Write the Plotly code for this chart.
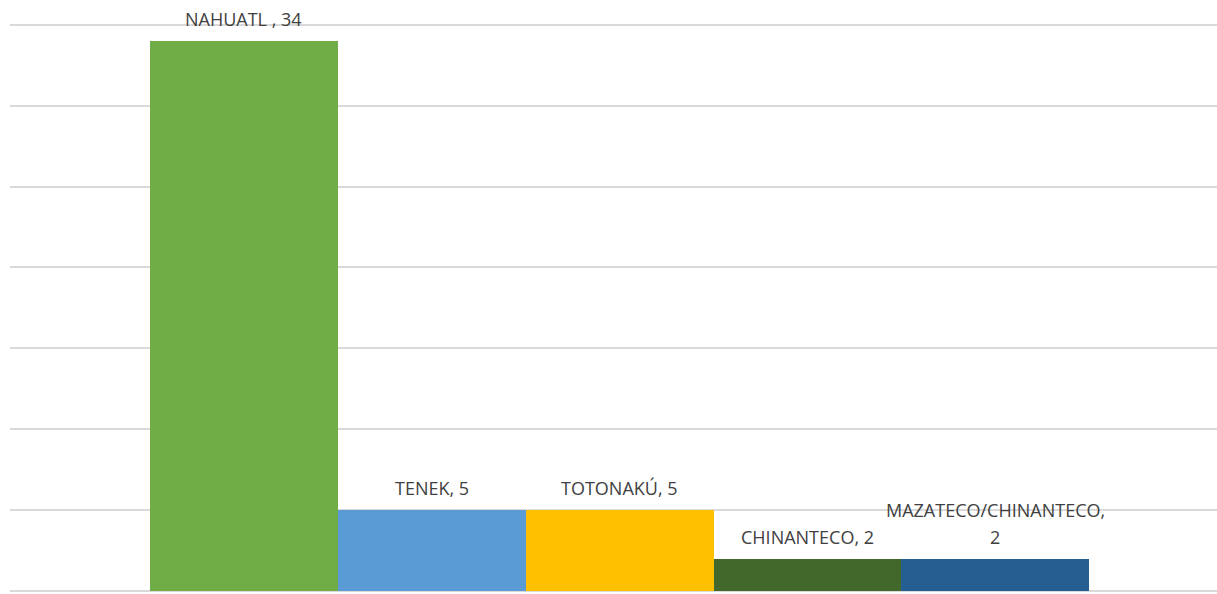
import plotly.graph_objects as go

categories = ["NAHUATL ", "TENEK", "TOTONAKÚ", "CHINANTECO", "MAZATECO/CHINANTECO"]
values = [34, 5, 5, 2, 2]
colors = ["#70AD47", "#5B9BD5", "#FFC000", "#43682B", "#255E91"]
label_texts = ["NAHUATL , 34", "TENEK, 5", "TOTONAKÚ, 5", "CHINANTECO, 2", "MAZATECO/CHINANTECO,<br>2"]
grid_values = [0, 5, 10, 15, 20, 25, 30, 35]

LINE_GAP = 27
xs = list(range(len(categories)))
fig = go.Figure()
fig.add_trace(go.Bar(x=xs, y=values, marker=dict(color=colors, line=dict(width=0)),
                     width=1.0, hoverinfo="skip"))

for i, (v, t) in enumerate(zip(values, label_texts)):
    lines = t.split("<br>")
    n = len(lines)
    for k, line in enumerate(lines):
        fig.add_annotation(x=i, y=v, text=line, showarrow=False, yanchor="bottom",
                           yshift=8 + (n - 1 - k) * LINE_GAP,
                           font=dict(family="Open Sans", size=18, color="#404040"))

fig.update_layout(
    width=1217, height=594,
    margin=dict(l=10, r=0, t=20, b=3),
    paper_bgcolor="white", plot_bgcolor="white",
    showlegend=False, bargap=0,
    xaxis=dict(range=[-1.245, 5.18], showticklabels=False, showgrid=False, zeroline=False,
               showline=False, ticks=""),
    yaxis=dict(range=[0, 35.3], tickvals=grid_values, showticklabels=False,
               showgrid=True, gridcolor="#D9D9D9", gridwidth=1.5, zeroline=True,
               zerolinecolor="#D9D9D9", zerolinewidth=1.5, showline=False, ticks=""),
)
fig.write_html("out.html", config={"displayModeBar": False},
               post_script="document.body.style.margin='0';document.body.style.overflow='hidden';")
